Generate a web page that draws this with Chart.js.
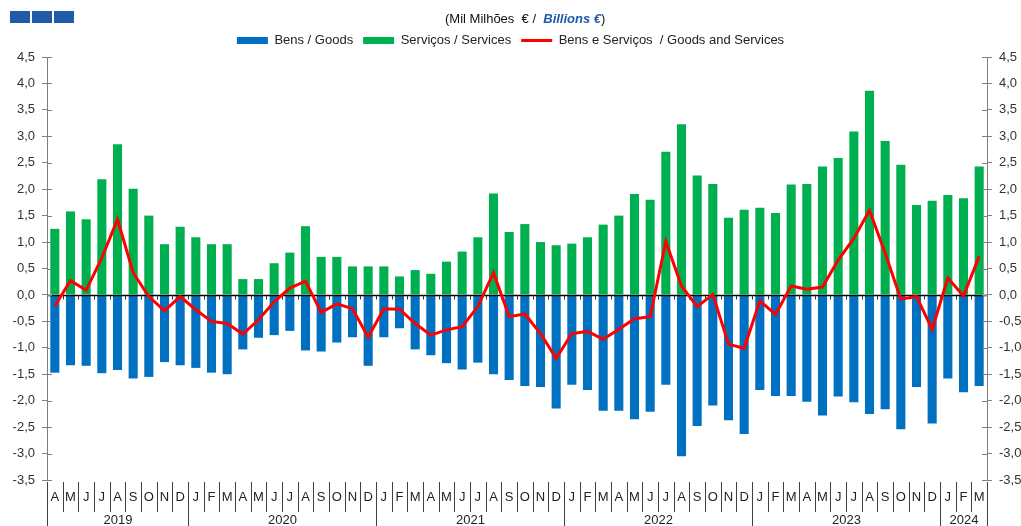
<!DOCTYPE html>
<html><head><meta charset="utf-8">
<script src="https://cdn.jsdelivr.net/npm/chart.js@4.4.1/dist/chart.umd.min.js"></script>
<style>
html,body{margin:0;padding:0;background:#fff;}
#wrap{position:relative;width:1021px;height:526px;overflow:hidden;}
#logo{position:absolute;left:10px;top:11px;height:12px;}
#logo span{display:block;float:left;width:20px;height:12px;background:#1F5BA6;margin-right:2px;}
#title{position:absolute;top:11px;left:445px;white-space:nowrap;font:13px "Liberation Sans",Arial,sans-serif;color:#111;}
#title b{color:#1F5BA6;font-style:italic;font-size:13px;}
canvas{position:absolute;left:0;top:0;}
</style></head>
<body>
<div id="wrap">
<canvas id="c" width="1021" height="526"></canvas>
<div id="logo"><span></span><span></span><span></span></div>
<div id="title">(Mil Milhões&nbsp; € /&nbsp; <b>Billions €</b>)</div>
</div>
<script>
const months = ['A','M','J','J','A','S','O','N','D',
 'J','F','M','A','M','J','J','A','S','O','N','D',
 'J','F','M','A','M','J','J','A','S','O','N','D',
 'J','F','M','A','M','J','J','A','S','O','N','D',
 'J','F','M','A','M','J','J','A','S','O','N','D',
 'J','F','M'];
const years = ['2019','2020','2021','2022','2023','2024'];
const monthsPerYear = [9,12,12,12,12,3];

const goods = [-1.47,-1.33,-1.34,-1.48,-1.42,-1.58,-1.55,-1.27,-1.33,
 -1.38,-1.47,-1.50,-1.03,-0.81,-0.76,-0.68,-1.05,-1.07,-0.90,-0.80,-1.34,
 -0.80,-0.63,-1.03,-1.14,-1.29,-1.41,-1.28,-1.50,-1.61,-1.72,-1.74,-2.15,
 -1.70,-1.80,-2.19,-2.19,-2.35,-2.21,-1.70,-3.05,-2.48,-2.09,-2.37,-2.63,
 -1.80,-1.91,-1.91,-2.02,-2.28,-1.92,-2.03,-2.25,-2.16,-2.54,-1.74,-2.43,
 -1.58,-1.84,-1.72];
const services = [1.25,1.58,1.43,2.19,2.85,2.01,1.50,0.96,1.29,
 1.09,0.96,0.96,0.30,0.30,0.60,0.80,1.30,0.72,0.72,0.54,0.54,
 0.54,0.35,0.47,0.40,0.63,0.82,1.09,1.92,1.19,1.34,1.00,0.94,
 0.97,1.09,1.33,1.50,1.91,1.80,2.71,3.23,2.26,2.10,1.46,1.61,
 1.65,1.55,2.09,2.10,2.43,2.59,3.09,3.86,2.91,2.46,1.70,1.78,
 1.89,1.83,2.43];
const total = [-0.21,0.27,0.09,0.70,1.43,0.42,-0.03,-0.30,-0.03,
 -0.28,-0.50,-0.54,-0.74,-0.47,-0.13,0.13,0.26,-0.33,-0.17,-0.26,-0.80,
 -0.26,-0.27,-0.54,-0.76,-0.66,-0.60,-0.22,0.42,-0.41,-0.36,-0.73,-1.20,
 -0.73,-0.69,-0.84,-0.65,-0.45,-0.41,1.01,0.17,-0.22,0.01,-0.93,-1.01,
 -0.11,-0.37,0.17,0.11,0.15,0.66,1.07,1.60,0.79,-0.08,-0.03,-0.65,
 0.32,-0.02,0.73];

const FONT = '"Liberation Sans", Arial, sans-serif';
const fmt = v => v.toFixed(1).replace('.', ',');

const deco = {
  id: 'deco',
  beforeDatasetDraw(chart, args) {
    if (args.index !== 2) return;
    const {ctx, chartArea: a, scales: {x, y}} = chart;
    const y0 = Math.round(y.getPixelForValue(0)) + 0.5;
    ctx.save();
    ctx.strokeStyle = '#000'; ctx.lineWidth = 1.5;
    ctx.beginPath(); ctx.moveTo(a.left, y0); ctx.lineTo(a.right, y0); ctx.stroke();
    ctx.lineWidth = 1; ctx.strokeStyle = '#333';
    ctx.beginPath();
    for (let i = 1; i < months.length; i++) {
      const bx = Math.round((x.getPixelForValue(i - 1) + x.getPixelForValue(i)) / 2) + 0.5;
      ctx.moveTo(bx, y0); ctx.lineTo(bx, y0 + 4);
    }
    ctx.stroke();
    ctx.restore();
  },
  afterDraw(chart) {
    const {ctx, chartArea: a, scales: {x, y}} = chart;
    ctx.save();
    ctx.strokeStyle = '#808080'; ctx.lineWidth = 1;
    ctx.beginPath();
    y.ticks.forEach(t => {
      const py = Math.round(y.getPixelForValue(t.value)) + 0.5;
      ctx.moveTo(a.left, py); ctx.lineTo(a.left + 5, py);
      ctx.moveTo(a.right - 5, py); ctx.lineTo(a.right, py);
    });
    ctx.stroke();
    const n = months.length;
    const half = (x.getPixelForValue(1) - x.getPixelForValue(0)) / 2;
    const bound = i => Math.round(x.getPixelForValue(i) - half) + 0.5;
    const yearStarts = [0];
    monthsPerYear.forEach((m, k) => yearStarts.push(yearStarts[k] + m));
    ctx.strokeStyle = '#404040'; ctx.lineWidth = 1;
    ctx.beginPath();
    for (let i = 0; i <= n; i++) {
      const bx = bound(i);
      const isYear = yearStarts.includes(i);
      ctx.moveTo(bx, a.bottom + 2); ctx.lineTo(bx, isYear ? 526 : a.bottom + 32);
    }
    ctx.stroke();
    ctx.fillStyle = '#222';
    ctx.font = '13px ' + FONT;
    ctx.textAlign = 'center'; ctx.textBaseline = 'middle';
    months.forEach((m, i) => ctx.fillText(m, x.getPixelForValue(i), a.bottom + 17));
    years.forEach((yr, k) => {
      const cx = (bound(yearStarts[k]) + bound(yearStarts[k + 1])) / 2;
      ctx.fillText(yr, cx, a.bottom + 40);
    });
    ctx.restore();
  }
};

const yCommon = {
  min: -3.5, max: 4.5,
  ticks: {stepSize: 0.5, callback: v => fmt(v), color: '#333', font: {size: 13, family: FONT}, padding: 7},
  grid: {drawOnChartArea: false, tickLength: 5, color: '#808080'},
  border: {display: true, color: '#808080', width: 1}
};

new Chart(document.getElementById('c'), {
  data: {
    labels: months,
    datasets: [
      {type: 'bar', label: 'Bens / Goods', data: goods, backgroundColor: '#0070C0', borderWidth: 0, order: 1, pointStyle: 'rect'},
      {type: 'bar', label: 'Serviços / Services', data: services, backgroundColor: '#00B050', borderWidth: 0, order: 1, pointStyle: 'rect'},
      {type: 'line', label: 'Bens e Serviços  / Goods and Services', data: total, borderColor: '#FF0000', backgroundColor: '#FF0000', borderWidth: 3, pointRadius: 0, tension: 0, order: 0, pointStyle: 'line'}
    ]
  },
  options: {
    responsive: false, animation: false,
    layout: {padding: {top: 24, left: 0, right: 0, bottom: 0}},
    datasets: {bar: {barPercentage: 0.58, categoryPercentage: 1}},
    plugins: {
      legend: {
        position: 'top',
        labels: {usePointStyle: true, pointStyleWidth: 31, boxHeight: 7, padding: 10, color: '#222',
                 font: {size: 13, family: FONT}, sort: (a, b) => a.datasetIndex - b.datasetIndex}
      },
      tooltip: {enabled: false}
    },
    scales: {
      x: {stacked: true, offset: true, grid: {display: false}, border: {display: false}, ticks: {display: false},
          afterFit: s => { s.height = 46; }},
      y: Object.assign({position: 'left', afterFit: s => { s.width = 47; }}, yCommon),
      y2: Object.assign({position: 'right', afterFit: s => { s.width = 34; }}, yCommon)
    }
  },
  plugins: [deco]
});
</script>
</body></html>
